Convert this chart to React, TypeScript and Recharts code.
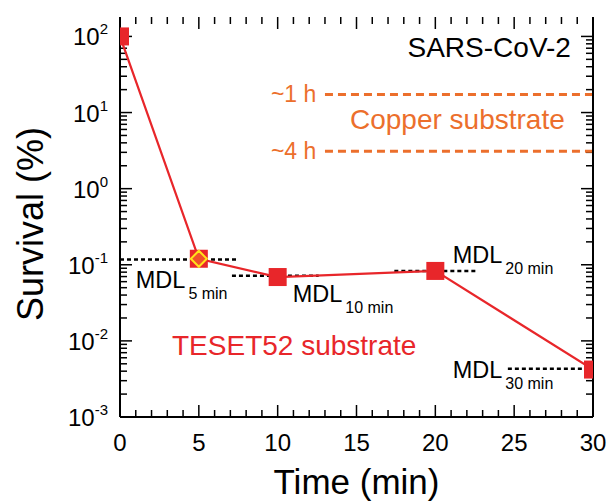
import React from 'react'
import {
  ComposedChart, Line, Scatter, XAxis, YAxis, ReferenceLine, ReferenceDot,
} from 'recharts'

// survival of SARS-CoV-2 on TESET52 substrate
const times = [0, 5, 10, 20, 30]
const survival = [100, 0.12, 0.069, 0.083, 0.0042]

// point drawn with the yellow diamond
const highlightTimes = [5]
const highlightSurvival = [0.12]

// method detection limits
const mdlNames = ['5 min', '10 min', '20 min', '30 min']
const mdlLevels = [0.117, 0.072, 0.083, 0.0043]
const mdlFrom = [0, 7.1, 17.4, 24.6]
const mdlTo = [7.45, 12.6, 22.7, 30]
const mdlLabelX = [1.0, 10.95, 21.1, 21.1]
const mdlLabelY = [0.05, 0.0326, 0.106, 0.00326]

// copper substrate reference lines
const copperNames = ['~1 h', '~4 h']
const copperLevels = [17.3, 3.1]
const copperFrom = 13
const copperTo = 30

const xMajor = [0, 5, 10, 15, 20, 25, 30]
const xTicks = Array.from({ length: 31 }, (_, i) => i)
const yDecades = [-3, -2, -1, 0, 1, 2]
const yTicks: number[] = []
yDecades.forEach((d) => {
  for (let k = 1; k <= 9; k++) {
    if (d === 2 && k > 1) break
    yTicks.push(+(k * Math.pow(10, d)).toPrecision(3))
  }
})

const data = times.map((t, i) => ({ t, v: survival[i] }))
const highlight = highlightTimes.map((t, i) => ({ t, v: highlightSurvival[i] }))

const FONT = '"Liberation Sans", Arial, Helvetica, sans-serif'
const RED = '#e8262a'
const ORANGE = '#ec6f2c'
const MAJOR = 12
const MINOR = 7

const isDecade = (v: number) => Math.abs(Math.log10(v) - Math.round(Math.log10(v))) < 1e-6

function BottomTick(props: any) {
  const { x, y, payload } = props
  if (!xMajor.includes(payload.value)) return <g />
  return (
    <text x={x} y={y + 34} textAnchor="middle" fontSize={24} fontFamily={FONT} fill="#000">
      {payload.value}
    </text>
  )
}

function LeftTick(props: any) {
  const { x, y, payload } = props
  if (!isDecade(payload.value)) return <g />
  const exp = Math.round(Math.log10(payload.value))
  return (
    <text x={x - 12} y={y + 9} textAnchor="end" fontSize={24} fontFamily={FONT} fill="#000">
      10
      <tspan fontSize={15} dy={-11}>{exp < 0 ? '-' + Math.abs(exp) : exp}</tspan>
    </text>
  )
}

// inward tick marks on both opposite frame edges
const vTickShape = (len: number) => (p: any) => {
  const top = Math.min(p.y1, p.y2)
  const bot = Math.max(p.y1, p.y2)
  return (
    <g>
      <line x1={p.x1} x2={p.x1} y1={bot} y2={bot - len} stroke="#000" strokeWidth={1.5} />
      <line x1={p.x1} x2={p.x1} y1={top} y2={top + len} stroke="#000" strokeWidth={1.5} />
    </g>
  )
}
const hTickShape = (len: number) => (p: any) => {
  const l = Math.min(p.x1, p.x2)
  const r = Math.max(p.x1, p.x2)
  return (
    <g>
      <line x1={l} x2={l + len} y1={p.y1} y2={p.y1} stroke="#000" strokeWidth={1.5} />
      <line x1={r} x2={r - len} y1={p.y1} y2={p.y1} stroke="#000" strokeWidth={1.5} />
    </g>
  )
}

function Square(props: any) {
  const { cx, cy, index } = props
  return <rect key={index} x={cx - 9} y={cy - 9} width={18} height={18} fill={RED} />
}

function Diamond(props: any) {
  const { cx, cy } = props
  const r = 8
  return (
    <polygon
      points={`${cx},${cy - r} ${cx + r},${cy} ${cx},${cy + r} ${cx - r},${cy}`}
      fill="#f0502a"
      stroke="#ffe21a"
      strokeWidth={2}
    />
  )
}

// text anchored at a reference dot
const textAt = (text: string, opts: { anchor?: string; size?: number; color?: string; dy?: number; sub?: string }) =>
  (props: any) => {
    const vb = props.viewBox || {}
    const cx = vb.x + (vb.width || 0) / 2
    const cy = vb.y + (vb.height || 0) / 2
    return (
      <text
        x={cx}
        y={cy + (opts.dy || 0)}
        textAnchor={opts.anchor || 'start'}
        fontSize={opts.size || 28}
        fontFamily={FONT}
        fill={opts.color || '#000'}
      >
        {text}
        {opts.sub && <tspan fontSize={16} dx={3} dy={11}>{opts.sub}</tspan>}
      </text>
    )
  }

const frame = { stroke: '#000', strokeWidth: 2 }

export default function App() {
  return (
    <div style={{ position: 'absolute', left: 0, top: 0, width: 612, height: 502, background: '#fff', fontFamily: FONT }}>
      <ComposedChart width={612} height={502} data={data} margin={{ top: 17, right: 0, bottom: 0, left: 0 }}>
        <XAxis
          xAxisId="b"
          dataKey="t"
          type="number"
          domain={[0, 30]}
          allowDataOverflow
          ticks={xTicks}
          interval={0}
          tickSize={0}
          tickMargin={0}
          tickLine={false}
          tick={<BottomTick />}
          height={85}
          axisLine={frame}
          label={{
            content: (p: any) => (
              <text x={p.viewBox.x + p.viewBox.width / 2} y={p.viewBox.y + 77} textAnchor="middle" fontSize={35} fontFamily={FONT} fill="#000">
                Time (min)
              </text>
            ),
          }}
        />
        <XAxis
          xAxisId="top"
          orientation="top"
          dataKey="t"
          type="number"
          domain={[0, 30]}
          allowDataOverflow
          tick={false}
          tickLine={false}
          height={0}
          axisLine={frame}
        />
        <YAxis
          yAxisId="l"
          scale="log"
          domain={[0.001, 180]}
          allowDataOverflow
          ticks={yTicks}
          interval={0}
          tickSize={0}
          tickMargin={0}
          tickLine={false}
          tick={<LeftTick />}
          width={120}
          axisLine={frame}
          label={{
            content: (p: any) => {
              const x = p.viewBox.x + 43
              const y = p.viewBox.y + p.viewBox.height / 2 + 7
              return (
                <text x={x} y={y} transform={`rotate(-90 ${x} ${y})`} textAnchor="middle" fontSize={36} fontFamily={FONT} fill="#000">
                  Survival (%)
                </text>
              )
            },
          }}
        />
        <YAxis
          yAxisId="r"
          orientation="right"
          scale="log"
          domain={[0.001, 180]}
          allowDataOverflow
          tick={false}
          tickLine={false}
          width={19}
          axisLine={frame}
        />

        {xTicks.map((v) => (
          <ReferenceLine
            key={'xt' + v}
            xAxisId="b"
            yAxisId="l"
            x={v}
            stroke="none"
            ifOverflow="visible"
            shape={vTickShape(xMajor.includes(v) ? MAJOR : MINOR)}
          />
        ))}
        {yTicks.map((v) => (
          <ReferenceLine
            key={'yt' + v}
            xAxisId="b"
            yAxisId="l"
            y={v}
            stroke="none"
            ifOverflow="visible"
            shape={hTickShape(isDecade(v) ? MAJOR : MINOR)}
          />
        ))}

        {mdlNames.map((n, i) => (
          <ReferenceLine
            key={'mdl' + n}
            xAxisId="b"
            yAxisId="l"
            segment={[{ x: mdlFrom[i], y: mdlLevels[i] }, { x: mdlTo[i], y: mdlLevels[i] }]}
            stroke="#000"
            strokeWidth={2.5}
            strokeDasharray="4 3"
            ifOverflow="visible"
          />
        ))}
        {copperNames.map((n, i) => (
          <ReferenceLine
            key={'cu' + n}
            xAxisId="b"
            yAxisId="l"
            segment={[{ x: copperFrom, y: copperLevels[i] }, { x: copperTo, y: copperLevels[i] }]}
            stroke={ORANGE}
            strokeWidth={3}
            strokeDasharray="8 5"
            ifOverflow="visible"
          />
        ))}

        <Line
          xAxisId="b"
          yAxisId="l"
          dataKey="v"
          stroke={RED}
          strokeWidth={2.2}
          dot={Square}
          activeDot={false}
          isAnimationActive={false}
        />
        <Scatter
          xAxisId="b"
          yAxisId="l"
          data={highlight}
          dataKey="v"
          shape={Diamond}
          isAnimationActive={false}
        />

        {copperNames.map((n, i) => (
          <ReferenceDot
            key={'cut' + n}
            xAxisId="b"
            yAxisId="l"
            x={12.45}
            y={copperLevels[i]}
            r={0}
            fill="none"
            stroke="none"
            ifOverflow="visible"
            label={textAt(n, { anchor: 'end', size: 23, color: ORANGE, dy: 8 })}
          />
        ))}
        {mdlNames.map((n, i) => (
          <ReferenceDot
            key={'mdlt' + n}
            xAxisId="b"
            yAxisId="l"
            x={mdlLabelX[i]}
            y={mdlLabelY[i]}
            r={0}
            fill="none"
            stroke="none"
            ifOverflow="visible"
            label={textAt('MDL', { size: 23.5, sub: n })}
          />
        ))}
        <ReferenceDot
          xAxisId="b"
          yAxisId="l"
          x={28.6}
          y={53}
          r={0}
          fill="none"
          stroke="none"
          ifOverflow="visible"
          label={textAt('SARS-CoV-2', { anchor: 'end' })}
        />
        <ReferenceDot
          xAxisId="b"
          yAxisId="l"
          x={21.4}
          y={6}
          r={0}
          fill="none"
          stroke="none"
          ifOverflow="visible"
          label={textAt('Copper substrate', { anchor: 'middle', color: ORANGE })}
        />
        <ReferenceDot
          xAxisId="b"
          yAxisId="l"
          x={3.3}
          y={0.0066}
          r={0}
          fill="none"
          stroke="none"
          ifOverflow="visible"
          label={textAt('TESET52 substrate', { color: RED })}
        />
      </ComposedChart>
    </div>
  )
}
